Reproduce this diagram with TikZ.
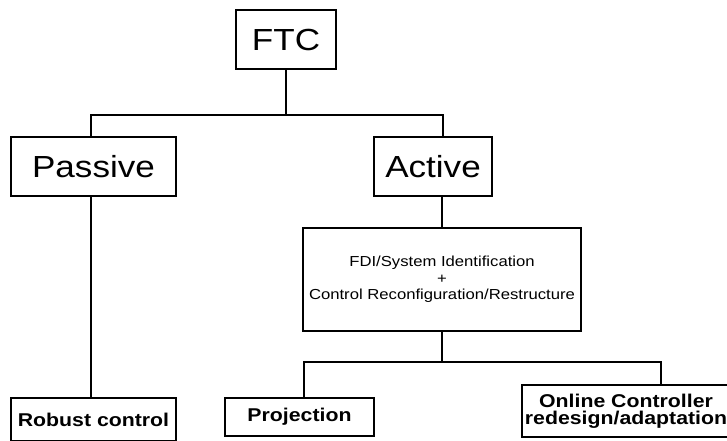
\documentclass[tikz,border=0pt]{standalone}
\usepackage{fontspec}
\newfontfamily\diagfont[FakeStretch=1.15]{Liberation Sans}
\tikzset{
  box/.style={draw=black, line width=1.1pt, inner sep=0pt, align=center, text=black},
  bigbox/.style={box, font=\diagfont\fontsize{30.5}{30.5}\selectfont},
  midbox/.style={box, font=\diagfont\fontsize{14.5}{16.3}\selectfont},
  leafbox/.style={box, font=\diagfont\bfseries\fontsize{18.5}{17.5}\selectfont},
  link/.style={draw=black, line width=1.1pt}
}
\begin{document}
\begin{tikzpicture}[x=1pt, y=-1pt]
  \useasboundingbox (0,0) rectangle (727,440);
  \clip (0,0) rectangle (727,440);

  % top level
  \node[bigbox, minimum width=100pt, minimum height=59pt] (FTC) at (286,39.5) {FTC};

  % second level
  \node[bigbox, minimum width=165pt, minimum height=59pt] (Passive) at (93.5,166.5) {Passive};
  \node[bigbox, minimum width=118pt, minimum height=59pt] (Active) at (433,166.5) {Active};

  % active branch detail
  \node[midbox, minimum width=278pt, minimum height=103pt] (FDI) at (442,279.5)
    {FDI/System Identification\\+\\Control Reconfiguration/Restructure};

  % leaves
  \node[leafbox, minimum width=165pt, minimum height=43pt] (Robust) at (93.5,419.5) {Robust control};
  \node[leafbox, minimum width=149pt, minimum height=38pt] (Projection) at (299.5,417) {Projection};
  \node[leafbox, minimum width=208pt, minimum height=52pt] (Online) at (626,411)
    {Online Controller\\redesign/adaptation};

  % junction points of the two buses
  \coordinate (busA) at (286,115);
  \coordinate (busB) at (442,362);

  % connectors
  \draw[link] (FTC) -- (busA);
  \draw[link] ([xshift=-2.5]Passive.north) |- (busA) -| ([xshift=10]Active.north);
  \draw[link] ([xshift=-2.5]Passive.south) -- ([xshift=-2.5]Robust.north);
  \draw[link] (FDI.north |- Active.south) -- (FDI.north);
  \draw[link] (FDI) -- (busB);
  \draw[link] ([xshift=4.5]Projection.north) |- (busB) -| ([xshift=35]Online.north);
\end{tikzpicture}
\end{document}
